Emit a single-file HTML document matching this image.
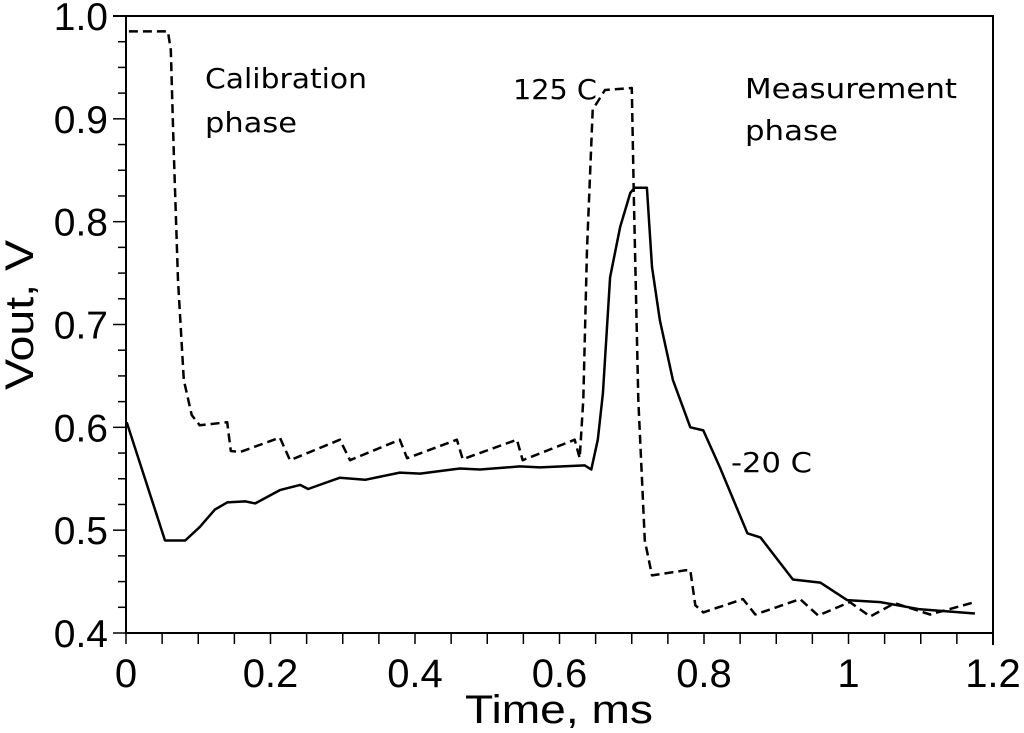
<!DOCTYPE html>
<html><head><meta charset="utf-8"><style>
html,body{margin:0;padding:0;background:#fff;}
svg{display:block;}
text{font-family:"Liberation Sans",sans-serif;fill:#000;}
.ann{font-family:"DejaVu Sans","Liberation Sans",sans-serif;font-size:28px;}
</style></head><body>
<svg id="chart" width="1024" height="733" viewBox="0 0 1024 733" xmlns="http://www.w3.org/2000/svg">
<g id="axes"></g>
<g id="series"></g>
<text class="ann" x="205" y="88" textLength="162" lengthAdjust="spacingAndGlyphs">Calibration</text>
<text class="ann" x="205" y="132" textLength="92" lengthAdjust="spacingAndGlyphs">phase</text>
<text class="ann" x="513" y="99" textLength="84" lengthAdjust="spacingAndGlyphs">125 C</text>
<text class="ann" x="745" y="98" textLength="212" lengthAdjust="spacingAndGlyphs">Measurement</text>
<text class="ann" x="745" y="140" textLength="93" lengthAdjust="spacingAndGlyphs">phase</text>
<text class="ann" x="731" y="472" textLength="81" lengthAdjust="spacingAndGlyphs">-20 C</text>
<text x="559" y="723" font-size="40" text-anchor="middle" textLength="188" lengthAdjust="spacingAndGlyphs">Time, ms</text>
<text x="0" y="0" font-size="40" text-anchor="middle" textLength="150" lengthAdjust="spacingAndGlyphs" transform="translate(33,315) rotate(-90)">Vout, V</text>
</svg>
<script>
const xTicks=[0,0.2,0.4,0.6,0.8,1,1.2];
const xTickLabels=["0","0.2","0.4","0.6","0.8","1","1.2"];
const yTicks=[0.4,0.5,0.6,0.7,0.8,0.9,1.0];
const yTickLabels=["0.4","0.5","0.6","0.7","0.8","0.9","1.0"];
const hotT=[.004,.058,.062,.066,.072,.080,.091,.102,.140,.145,.158,.213,.227,.296,.310,.379,.389,.458,.466,.541,.549,.621,.628,.633,.638,.646,.663,.700,.703,.709,.718,.728,.774,.781,.788,.799,.854,.871,.933,.958,1.002,1.030,1.064,1.113,1.175];
const hotV=[.985,.985,.967,.870,.743,.646,.612,.602,.605,.577,.576,.590,.568,.588,.568,.588,.570,.588,.569,.588,.568,.588,.570,.627,.773,.909,.928,.930,.821,.627,.490,.456,.461,.461,.427,.420,.433,.418,.433,.417,.430,.416,.429,.418,.430];
const coldT=[.001,.054,.082,.102,.123,.140,.165,.179,.213,.241,.252,.296,.331,.379,.407,.462,.490,.545,.573,.635,.644,.653,.660,.670,.684,.698,.704,.721,.728,.739,.757,.781,.799,.822,.860,.878,.923,.961,.998,1.044,1.099,1.175];
const coldV=[.605,.490,.490,.503,.520,.527,.528,.526,.539,.544,.540,.551,.549,.556,.555,.560,.559,.562,.561,.563,.559,.588,.633,.746,.795,.828,.833,.833,.756,.704,.646,.600,.597,.561,.497,.493,.452,.449,.432,.430,.423,.419];

const X0=126,X1=993,Y0=633,Y1=16;
function sx(t){return X0+(t-0)/(1.2-0)*(X1-X0);}
function sy(v){return Y0-(v-0.4)/(1.0-0.4)*(Y0-Y1);}
const NS="http://www.w3.org/2000/svg";
function mk(tag,attrs,parent){const e=document.createElementNS(NS,tag);for(const k in attrs)e.setAttribute(k,attrs[k]);parent.appendChild(e);return e;}
const axes=document.getElementById('axes');
let fr=mk('path',{d:`M${X0-13},${Y1}H${X1}V${Y0+12}M${X0},${Y1}V${Y0}H${X1}`,fill:'none',stroke:'#000','stroke-width':2},axes);


for(let i=0;i<=24;i++){
  const v=0.4+i*0.025;const y=sy(v);const major=i%4===0;
  let t=mk('line',{x1:major?X0-13:X0-8,x2:X0,y1:y,y2:y,stroke:'#000','stroke-width':1.5},axes);
  
  
}
for(let i=0;i<=24;i++){
  const x=sx(i*0.05);
  let t=mk('line',{x1:x,x2:x,y1:Y0,y2:Y0+11,stroke:'#000','stroke-width':1.5},axes);
  
  
}
yTicks.forEach((v,i)=>{
  let t=mk('text',{x:108,y:sy(v)+14,'font-size':39,'text-anchor':'end'},axes);
  t.textContent=yTickLabels[i];
  
  
});
xTicks.forEach((v,i)=>{
  let t=mk('text',{x:sx(v),y:687,'font-size':40,'text-anchor':'middle'},axes);
  t.textContent=xTickLabels[i];
  
  
});
const ser=document.getElementById('series');
function line(T,V,dash,name){
  const d=T.map((t,i)=>(i?'L':'M')+sx(t).toFixed(1)+','+sy(V[i]).toFixed(1)).join('');
  const p=mk('path',{d:d,fill:'none',stroke:'#000','stroke-width':2.5,'stroke-linejoin':'round'},ser);
  if(dash)p.setAttribute('stroke-dasharray','9,5');
  
  
}
line(hotT,hotV,true,'series-125c');
line(coldT,coldV,false,'series-minus20c');
</script>
</body></html>
